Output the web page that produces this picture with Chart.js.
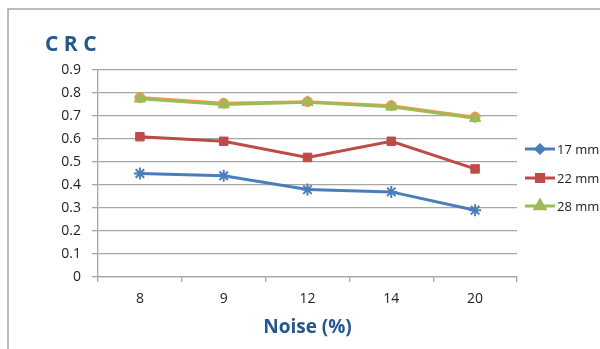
<!DOCTYPE html>
<html>
<head>
<meta charset="utf-8">
<script src="https://cdn.jsdelivr.net/npm/chart.js@4/dist/chart.umd.min.js"></script>
<style>
  html, body { margin: 0; padding: 0; background: #fff; }
  #wrap { width: 600px; height: 349px; }
</style>
</head>
<body>
<div id="wrap"><canvas id="crc" width="600" height="349"></canvas></div>
<script>
// values
const noise = ['8', '9', '12', '14', '20'];
const crc17 = [0.45, 0.44, 0.38, 0.37, 0.29];
const crc22 = [0.61, 0.59, 0.52, 0.59, 0.47];
const crc28 = [0.775, 0.75, 0.76, 0.74, 0.69];
const crcHidden = [0.78, 0.755, 0.762, 0.745, 0.695]; // orange marks peeking under the green ones
const yTicks = [0, 0.1, 0.2, 0.3, 0.4, 0.5, 0.6, 0.7, 0.8, 0.9];

const FONT = '"Open Sans", "Liberation Sans", sans-serif';
const NAVY = '#24578c';

// frame + title
const framePlugin = {
    id: 'frame',
    beforeDraw(chart) {
        const ctx = chart.ctx;
        ctx.save();
        ctx.fillStyle = '#fff';
        ctx.fillRect(0, 0, chart.width, chart.height);
        ctx.strokeStyle = '#a6a6a6';
        ctx.lineWidth = 1.5;
        ctx.beginPath();
        ctx.moveTo(8, chart.height);
        ctx.lineTo(8, 9);
        ctx.lineTo(chart.width, 9);
        ctx.stroke();
        ctx.fillStyle = NAVY;
        ctx.font = 'bold 21px ' + FONT;
        ctx.textBaseline = 'middle';
        ctx.fillText('C R C', 45, 45);
        ctx.restore();
    }
};

// legend in Excel style: short line with the marker in the middle
const sideLegend = {
    id: 'sideLegend',
    afterDraw(chart) {
        const ctx = chart.ctx;
        const rows = [149, 178, 206];
        ctx.save();
        chart.data.datasets.filter(d => d.inLegend).forEach((ds, i) => {
            const y = rows[i];
            ctx.strokeStyle = ds.borderColor;
            ctx.lineWidth = 3;
            ctx.beginPath();
            ctx.moveTo(525, y);
            ctx.lineTo(555, y);
            ctx.stroke();
            Chart.helpers.drawPoint(ctx, {
                pointStyle: ds.legendStyle,
                radius: ds.legendRadius,
                rotation: 0,
                borderWidth: 1
            }, 540, y);
            ctx.fillStyle = ds.borderColor;
            ctx.fill();
            ctx.fillStyle = '#222';
            ctx.font = '13px ' + FONT;
            ctx.textBaseline = 'middle';
            ctx.fillText(ds.label, 557, y + 1);
        });
        ctx.restore();
    }
};

new Chart(document.getElementById('crc'), {
    type: 'line',
    data: {
        labels: noise,
        datasets: [
            {
                label: '17 mm', data: crc17, inLegend: true,
                borderColor: '#4a7ebb', borderWidth: 3,
                pointStyle: 'star', pointRadius: 6, pointBorderWidth: 2,
                pointBorderColor: '#4a7ebb', pointBackgroundColor: '#4a7ebb',
                legendStyle: 'rectRot', legendRadius: 4, order: 1
            },
            {
                label: '22 mm', data: crc22, inLegend: true,
                borderColor: '#be4b48', borderWidth: 3,
                pointStyle: 'rect', pointRadius: 6, pointBorderWidth: 1,
                pointBorderColor: '#be4b48', pointBackgroundColor: '#be4b48',
                legendStyle: 'rect', legendRadius: 5, order: 2
            },
            {
                label: '28 mm', data: crc28, inLegend: true,
                borderColor: '#9bbb59', borderWidth: 3,
                pointStyle: 'triangle', pointRadius: 6.5, pointBorderWidth: 1,
                pointBorderColor: '#9bbb59', pointBackgroundColor: '#9bbb59',
                legendStyle: 'triangle', legendRadius: 5.5, order: 3
            },
            {
                label: 'hidden', data: crcHidden, inLegend: false,
                borderColor: '#f79646', borderWidth: 3,
                pointStyle: 'circle', pointRadius: 5, pointBorderWidth: 1,
                pointBorderColor: '#f79646', pointBackgroundColor: '#f79646',
                order: 4
            }
        ]
    },
    options: {
        responsive: false,
        animation: false,
        events: [],
        layout: { padding: { top: 70, right: 83, left: 0, bottom: 0 } },
        plugins: {
            legend: { display: false },
            title: { display: false },
            tooltip: { enabled: false }
        },
        elements: { line: { tension: 0 } },
        scales: {
            x: {
                offset: true,
                grid: {
                    offset: true, drawOnChartArea: false, drawTicks: true,
                    tickLength: 5, color: '#a6a6a6', lineWidth: 1.3
                },
                border: { color: '#a6a6a6', width: 1.3 },
                ticks: { color: '#222', padding: 9, font: { family: FONT, size: 14 } },
                title: {
                    display: true, text: 'Noise (%)', color: NAVY,
                    font: { family: FONT, size: 19, weight: 'bold', lineHeight: 1.2 },
                    padding: { top: 0, bottom: 10 }
                },
                afterFit(scale) { scale.height = 72; }
            },
            y: {
                min: 0, max: 0.9,
                afterBuildTicks(scale) { scale.ticks = yTicks.map(v => ({ value: v })); },
                grid: { color: '#a6a6a6', lineWidth: 1.3, tickLength: 6 },
                border: { color: '#a6a6a6', width: 1.3 },
                ticks: {
                    color: '#222', padding: 11, font: { family: FONT, size: 14 },
                    callback: v => String(Number(v.toFixed(1)))
                },
                afterFit(scale) { scale.width = 98; }
            }
        }
    },
    plugins: [framePlugin, sideLegend]
});
</script>
</body>
</html>
